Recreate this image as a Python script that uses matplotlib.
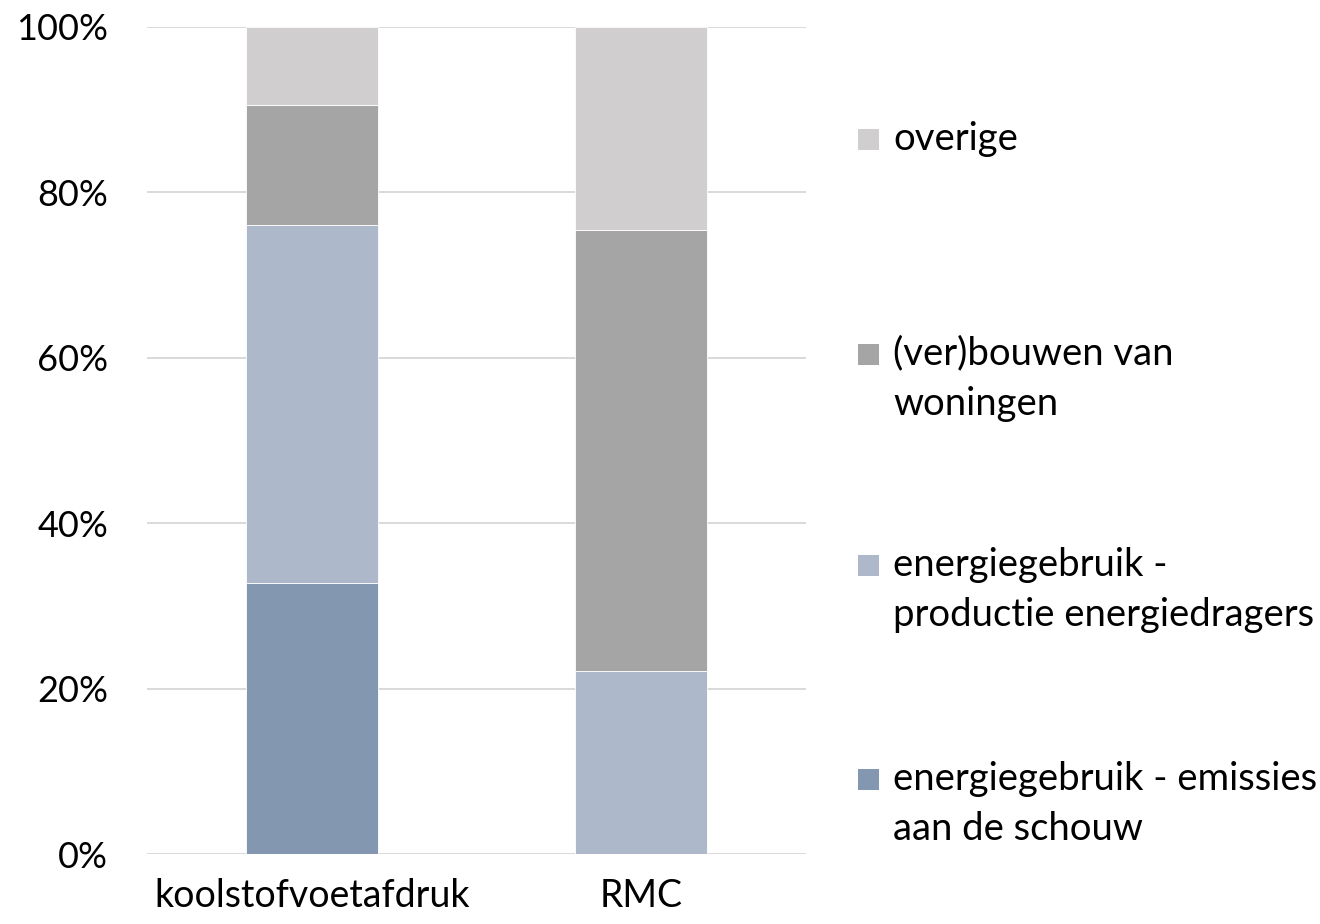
import matplotlib.pyplot as plt
import matplotlib.patches as mpatches
from matplotlib.ticker import PercentFormatter

# data (percent share per category)
categories = ["koolstofvoetafdruk", "RMC"]
emissies = [32.8, 0.0]
productie = [43.3, 22.1]
bouwen = [14.5, 53.4]
overige = [9.4, 24.5]

series_labels = [
    "energiegebruik - emissies\naan de schouw",
    "energiegebruik -\nproductie energiedragers",
    "(ver)bouwen van\nwoningen",
    "overige",
]
colors = ["#8497B0", "#ADB9CA", "#A5A5A5", "#D0CECE"]

plt.rcParams['font.family'] = ['Lato', 'DejaVu Sans']

fig = plt.figure(figsize=(13.2, 9.24), dpi=100)
ax = fig.add_axes([147 / 1320, 1 - 854 / 924, 659 / 1320, 827 / 924])

x = list(range(len(categories)))
bottom = [0.0] * len(categories)
for vals, col in zip([emissies, productie, bouwen, overige], colors):
    ax.bar(x, vals, width=0.4, bottom=bottom, color=col,
           edgecolor="white", linewidth=0.6, zorder=3)
    bottom = [b + v for b, v in zip(bottom, vals)]

ax.set_xlim(-0.5, 1.5)
ax.set_ylim(0, 100)
ax.set_yticks(range(0, 101, 20))
ax.yaxis.set_major_formatter(PercentFormatter(decimals=0))
ax.grid(axis="y", color="#D9D9D9", linewidth=1.4, zorder=0)
ax.set_axisbelow(True)
for s in ax.spines.values():
    s.set_visible(False)
ax.tick_params(axis="both", length=0, colors="black")
ax.tick_params(axis="y", labelsize=26, pad=28)
ax.tick_params(axis="x", labelsize=27, pad=17)
ax.set_xticks(x)
ax.set_xticklabels(categories)

# manual legend (top to bottom, like the original)
legend_y = [139, 379, 590, 804]
line_gap = 50
for lab, col, yc in zip(series_labels[::-1], colors[::-1], legend_y):
    first_line = yc if "\n" not in lab else yc - line_gap / 2
    fig.patches.append(mpatches.Rectangle(
        (858 / 1320, 1 - (first_line + 11) / 924), 21 / 1320, 21 / 924,
        transform=fig.transFigure, facecolor=col, edgecolor="none"))
    fig.text(893 / 1320, 1 - yc / 924, lab, fontsize=27.5, va="center",
             ha="left", linespacing=1.5)

fig.savefig("out.png", dpi=100)
